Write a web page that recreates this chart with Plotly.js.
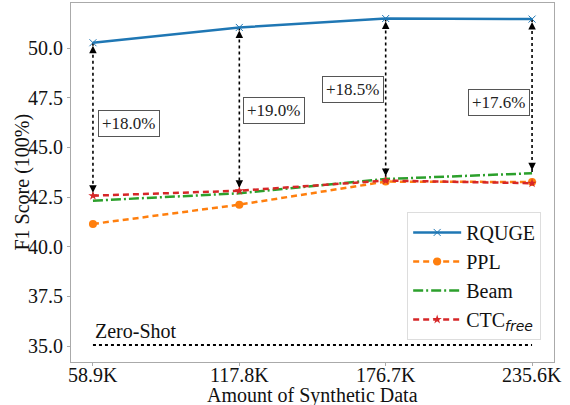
<!DOCTYPE html>
<html>
<head>
<meta charset="utf-8">
<script src="https://cdn.plot.ly/plotly-3.0.1.min.js"></script>
<style>html,body{margin:0;padding:0;background:#fff}#chart{width:570px;height:405px}</style>
</head>
<body>
<div id="chart"></div>
<script>
const categories = ["58.9K", "117.8K", "176.7K", "235.6K"];
const rquge = [50.27, 51.04, 51.49, 51.46];
const ppl = [41.15, 42.12, 43.28, 43.26];
const beam = [42.32, 42.69, 43.41, 43.70];
const ctcFree = [42.57, 42.82, 43.33, 43.20];
const zeroShot = 35.05;
const gainLabels = ["+18.0%", "+19.0%", "+18.5%", "+17.6%"];
const gainLow = [ctcFree[0], ctcFree[1], beam[2], beam[3]];
const labelPos = [[0.247, 46.19], [1.24, 46.86], [1.78, 47.92], [2.774, 47.27]];

const serif = "Liberation Serif";
const idx = categories.map((c, i) => i);
const plotH = 359, plotBottom = 362;
const pyToPaper = py => (plotBottom - py) / plotH;

const traces = [];
idx.forEach(i => {
  traces.push({x: [i, i], y: [rquge[i], gainLow[i]], mode: "lines", type: "scatter",
    line: {color: "black", width: 1.6, dash: "dot"}, showlegend: false, hoverinfo: "skip"});
});
traces.push({x: [0, categories.length - 1], y: [zeroShot, zeroShot], mode: "lines", type: "scatter",
  line: {color: "black", width: 2, dash: "dot"}, showlegend: false, hoverinfo: "skip"});

traces.push({x: idx, y: rquge, name: "RQUGE", mode: "lines+markers", type: "scatter",
  line: {color: "#1f77b4", width: 2.5}, marker: {symbol: "x-thin", size: 7, line: {color: "#1f77b4", width: 1}}});
traces.push({x: idx, y: ppl, name: "PPL", mode: "lines+markers", type: "scatter",
  line: {color: "#ff7f0e", width: 2.5, dash: "6px,4px"}, marker: {symbol: "circle", size: 8, color: "#ff7f0e"}});
traces.push({x: idx, y: beam, name: "Beam", mode: "lines", type: "scatter",
  line: {color: "#2ca02c", width: 2.5, dash: "10px,3px,2px,3px"}});
traces.push({x: idx, y: ctcFree, name: "CTC<sub><span style=\"font-family:DejaVu Sans\"><i>free</i></span></sub>", mode: "lines+markers", type: "scatter",
  line: {color: "#d62728", width: 2.5, dash: "6px,4px"}, marker: {symbol: "star", size: 7, color: "#d62728"}});

const annotations = [];
idx.forEach(i => {
  annotations.push({x: i, y: rquge[i], xref: "x", yref: "y", text: "", showarrow: true,
    ax: 0, ay: 9, arrowhead: 2, arrowsize: 1, arrowwidth: 1.5, arrowcolor: "black", standoff: 3});
  annotations.push({x: i, y: gainLow[i], xref: "x", yref: "y", text: "", showarrow: true,
    ax: 0, ay: -9, arrowhead: 2, arrowsize: 1, arrowwidth: 1.5, arrowcolor: "black", standoff: 3});
  annotations.push({x: labelPos[i][0], y: labelPos[i][1], xref: "x", yref: "y", text: gainLabels[i],
    showarrow: false, font: {family: serif, size: 17, color: "#222"}, bgcolor: "white",
    bordercolor: "#555", borderwidth: 1, borderpad: 3});
  // x tick labels
  annotations.push({x: i, y: pyToPaper(375), xref: "x", yref: "paper", text: categories[i], showarrow: false,
    xanchor: "center", yanchor: "middle", font: {family: serif, size: 20, color: "#111"}});
});
annotations.push({x: 0, y: zeroShot, xref: "x", yref: "y", text: "Zero-Shot", showarrow: false,
  xanchor: "left", yanchor: "bottom", yshift: 1, xshift: 0, font: {family: serif, size: 20, color: "#111"}});
annotations.push({x: 0.5, y: pyToPaper(395), xref: "paper", yref: "paper", text: "Amount of Synthetic Data", showarrow: false,
  yanchor: "middle", font: {family: serif, size: 20, color: "#111"}});
annotations.push({x: 0, y: 0.5, xref: "paper", yref: "paper", text: "F1 Score (100%)", showarrow: false,
  textangle: -90, xanchor: "center", yanchor: "middle", xshift: -49,
  font: {family: serif, size: 20, color: "#111"}});

const layout = {
  width: 570, height: 405,
  margin: {l: 71, r: 16, t: 3, b: 43},
  paper_bgcolor: "white", plot_bgcolor: "white",
  font: {family: serif, size: 20, color: "#111"},
  xaxis: {
    type: "linear", range: [-0.15, 3.15], tickvals: idx, showticklabels: false,
    showgrid: false, zeroline: false, showline: true, mirror: true, linecolor: "#aaaaaa", linewidth: 1,
    ticks: "outside", ticklen: 3, tickcolor: "#aaaaaa"
  },
  yaxis: {
    range: [34.2, 52.27], tick0: 35, dtick: 2.5, tickformat: ".1f",
    showgrid: false, zeroline: false, showline: true, mirror: true, linecolor: "#aaaaaa", linewidth: 1,
    ticks: "outside", ticklen: 3, tickcolor: "#aaaaaa",
    tickfont: {family: serif, size: 20, color: "#111"}
  },
  legend: {x: 0.696, y: 0.418, xanchor: "left", yanchor: "top", bgcolor: "white", itemwidth: 48,
    bordercolor: "#dddddd", borderwidth: 1, font: {family: serif, size: 20, color: "#111"}},
  annotations: annotations,
  showlegend: true
};

Plotly.newPlot("chart", traces, layout, {displayModeBar: false, staticPlot: true});
</script>
</body>
</html>
